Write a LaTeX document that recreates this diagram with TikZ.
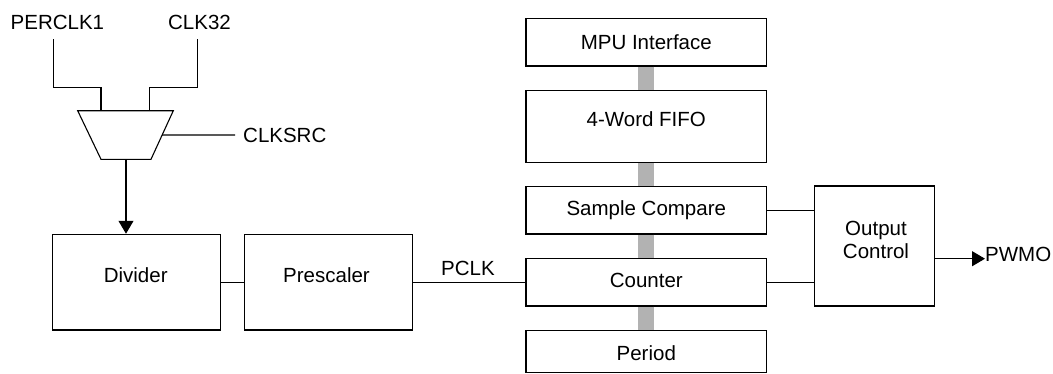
\documentclass[tikz,border=0pt]{standalone}
\usepackage{fontspec}
\setmainfont{Liberation Sans}
\usetikzlibrary{arrows.meta,calc}
\begin{document}
\begin{tikzpicture}[x=1pt,y=-1pt,
  wire/.style={draw=black,line width=1.1pt},
  box/.style={draw=black,line width=1.2pt,inner sep=0pt,minimum width=#1},
  bus/.style={draw=black!30,line width=16pt},
  lbl/.style={inner sep=0pt,text height=14.7pt,text depth=0pt,
    font={\fontsize{20.5}{23.4}\selectfont}},
  tip/.style={-{Triangle[length=13pt,width=15pt]}}]
\useasboundingbox (0,0) rectangle (1053,373);
% right column boxes
\node[box=240.7pt,minimum height=47.3pt] (mpu) at (646.3,42.3) {};
\node[box=240.7pt,minimum height=72pt] (fifo) at (646.3,126.3) {};
\node[box=240.7pt,minimum height=47.3pt] (sc) at (646.3,210.3) {};
\node[box=240.7pt,minimum height=47.7pt] (cnt) at (646.3,282.2) {};
\node[box=240.7pt,minimum height=42pt] (per) at (646.3,351.5) {};
\node[lbl] (mput) at (646.3,41.7) {MPU Interface};
\node[lbl] (fifot) at (646.3,119.3) {4-Word FIFO};
\node[lbl] (sct) at (646.3,208.3) {Sample Compare};
\node[lbl] (cntt) at (646.3,280) {Counter};
\node[lbl] (pert) at (646.3,353.3) {Period};
% buses
\draw[bus] (mpu.south) -- (fifo.north);
\draw[bus] (fifo.south) -- (sc.north);
\draw[bus] (sc.south) -- (cnt.north);
\draw[bus] (cnt.south) -- (per.north);
% output control
\node[box=120pt,minimum height=120pt] (out) at (874.3,246) {};
\node[lbl,align=center,text height=,text depth=] (outt) at (876,240) {Output\\Control};
\draw[wire] (sc.east) -- (sc.east -| out.west);
\draw[wire] (cnt.east) -- (cnt.east -| out.west);
\node[lbl,anchor=west] (pwmo) at (985,254.5) {PWMO};
\coordinate (oute) at ($(out.east)+(0,12.7)$);
\coordinate (pwmoin) at (985,258.7);
\draw[wire,tip] (oute) -- (pwmoin);
% divider, prescaler
\node[box=168pt,minimum height=95.7pt] (div) at (136.5,282.2) {};
\node[box=168pt,minimum height=95.7pt] (pre) at (328.4,282.2) {};
\node[lbl] (divt) at (135.7,275.3) {Divider};
\node[lbl] (pret) at (326.5,275.3) {Prescaler};
\draw[wire] (div.east) -- (pre.west);
\draw[wire] (pre.east) -- (cnt.west);
\node[lbl] (pclk) at (468,268.3) {PCLK};
% mux
\coordinate (mtl) at (77.7,110.7);
\coordinate (mtr) at (173.3,110.7);
\coordinate (mbr) at (151,159.3);
\coordinate (mbl) at (101,159.3);
\draw[wire] (mtl) -- (mtr) -- (mbr) -- (mbl) -- cycle;
\coordinate (in1) at (101,110.7);
\coordinate (in2) at (149.3,110.7);
\coordinate (mout) at (126,159.3);
\node[lbl] (perclk) at (57.4,21.7) {PERCLK1};
\node[lbl] (clk32) at (199.5,21.7) {CLK32};
\coordinate (p1) at (53.3,39.3);
\coordinate (p2) at (197.7,39.3);
\coordinate (j1) at (101,87.3);
\coordinate (j2) at (149.3,87.3);
\draw[wire] (p1) |- (j1) -- (in1);
\draw[wire] (p2) |- (j2) -- (in2);
\node[lbl,anchor=west] (clksrc) at (243,135) {CLKSRC};
\coordinate (clkend) at (235,135);
\draw[wire] ($(mtr)!0.5!(mbr)$) -- (clkend);
\draw[wire,tip] (mout) -- (mout |- div.north);
\end{tikzpicture}
\end{document}
